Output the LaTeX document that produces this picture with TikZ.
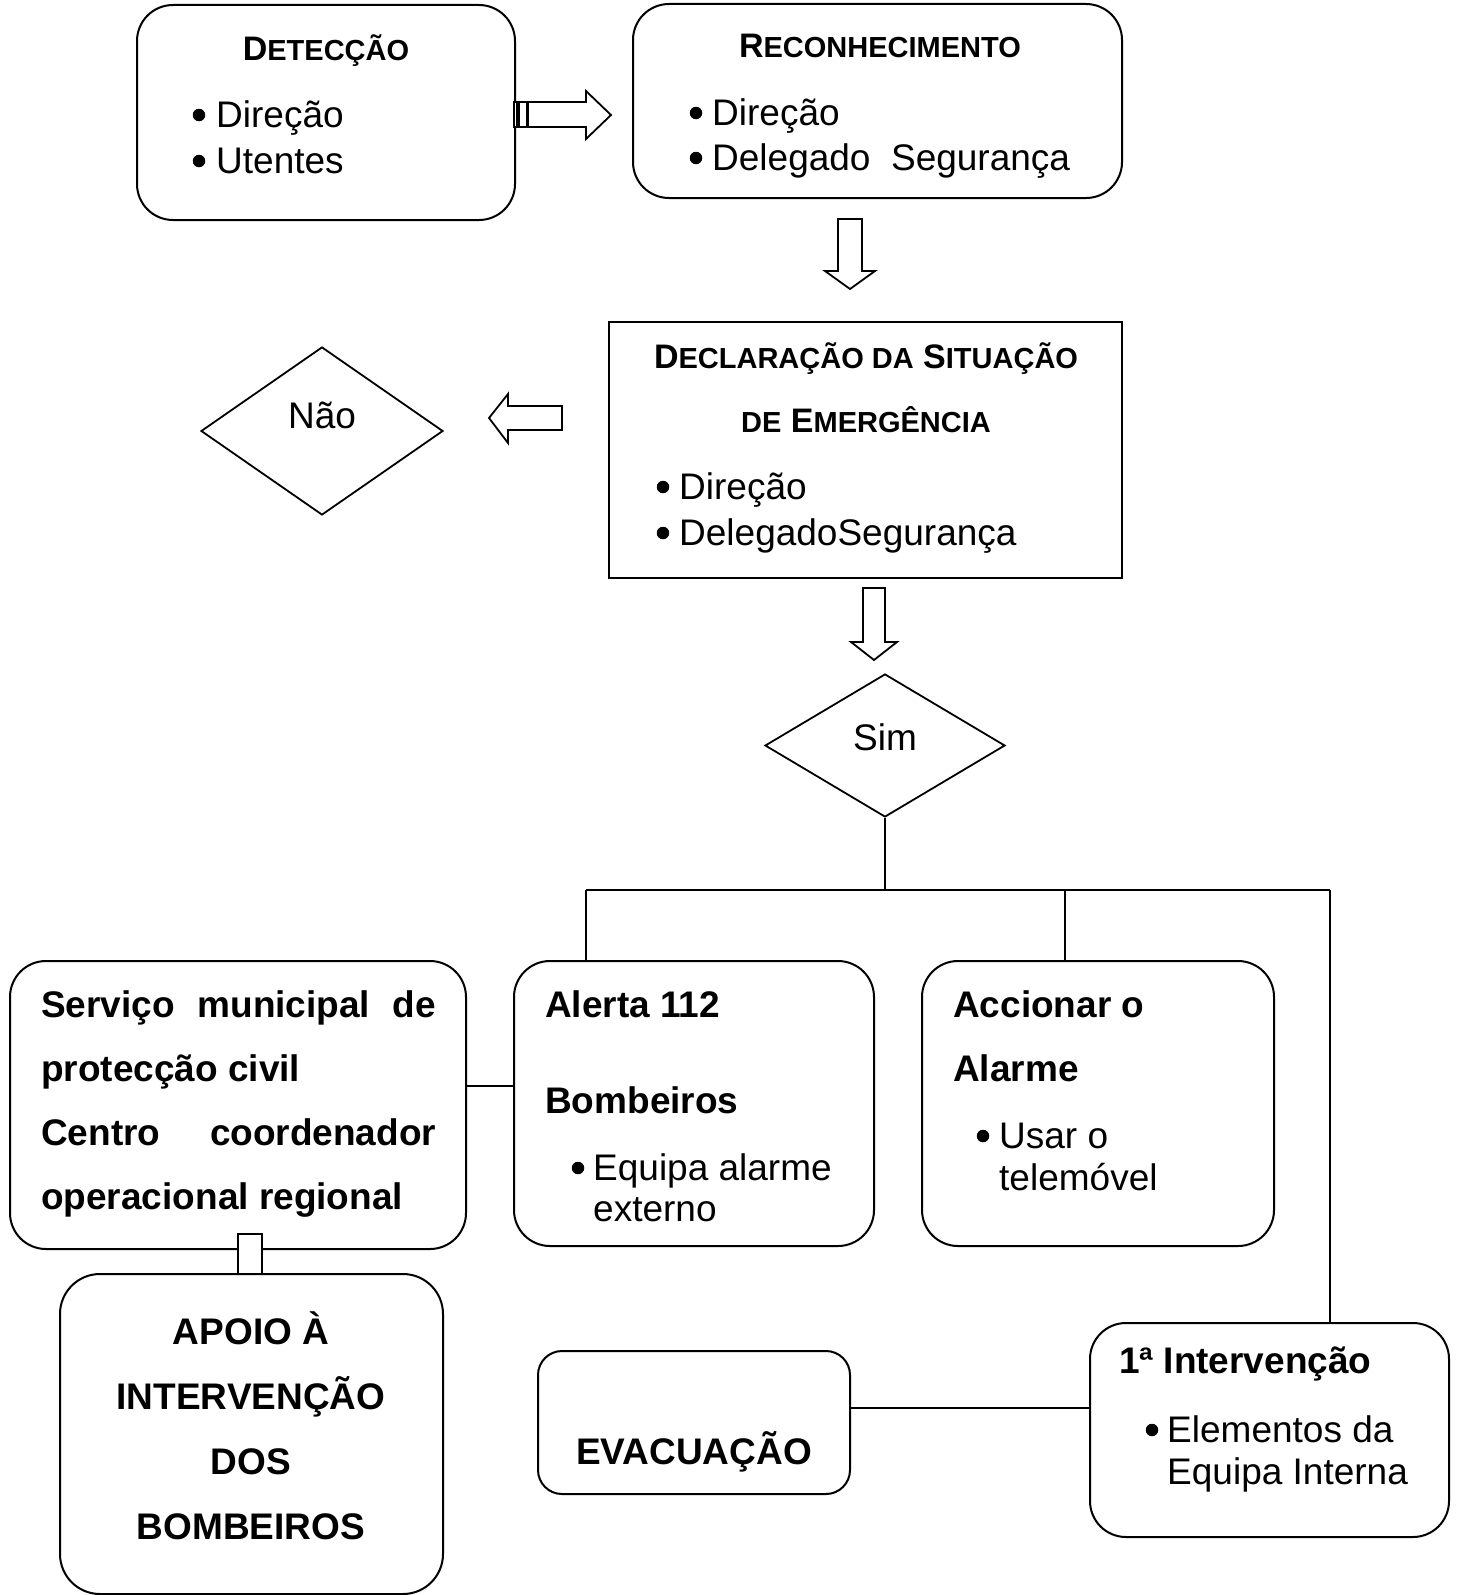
\documentclass[tikz,border=0pt]{standalone}
\usepackage{fontspec}
\setmainfont{Liberation Sans}
\usetikzlibrary{shapes.geometric}
\newcommand{\mysc}[1]{{\fontsize{29}{30}\selectfont #1}}
\tikzset{
  rbox/.style={draw, line width=2pt, rounded corners=36pt, inner sep=0pt},
  sbox/.style={draw, line width=2pt, inner sep=0pt},
  dia/.style={draw, diamond, line width=1.8pt, inner sep=0pt},
  conn/.style={line width=2pt},
  blk/.style={draw, line width=1.8pt, fill=white, line join=miter},
  txt/.style={inner sep=0pt, anchor=base west, font=\fontsize{37}{42}\selectfont},
  btxt/.style={inner sep=0pt, anchor=base west, font=\fontsize{37}{42}\selectfont\bfseries},
  ctxt/.style={inner sep=0pt, anchor=base, font=\fontsize{37}{42}\selectfont},
  cbtxt/.style={inner sep=0pt, anchor=base, font=\fontsize{37}{42}\selectfont\bfseries},
  ttl/.style={inner sep=0pt, anchor=base, font=\fontsize{34}{40}\selectfont\bfseries},
  bul/.style={circle, fill=black, inner sep=0pt, minimum size=12.5pt, yshift=12pt},
}
\begin{document}
\begin{tikzpicture}[x=1pt, y=-1pt]
\useasboundingbox (0,0) rectangle (1456,1595);

% boxes
\node[rbox, minimum width=378pt, minimum height=215pt] (det) at (326,112.5) {};
\node[rbox, minimum width=489pt, minimum height=194pt] (rec) at (877.5,101) {};
\node[sbox, minimum width=513pt, minimum height=256pt] (decl) at (865.5,450) {};
\node[dia, minimum width=242pt, minimum height=168pt] (nao) at (322,431) {};
\node[dia, minimum width=240pt, minimum height=143pt] (sim) at (885,745.5) {};
\node[rbox, minimum width=456pt, minimum height=288pt] (svc) at (238,1105) {};
\node[rbox, minimum width=360pt, minimum height=285pt] (alerta) at (694,1103.5) {};
\node[rbox, minimum width=352pt, minimum height=285pt] (acc) at (1098,1103.5) {};
\node[sbox, fill=white, minimum width=24pt, minimum height=40pt] (link) at (250,1254) {};
\node[rbox, rounded corners=40pt, minimum width=383pt, minimum height=320pt] (apoio) at (251.5,1434) {};
\node[rbox, rounded corners=24pt, minimum width=312pt, minimum height=143pt] (evac) at (694,1422.5) {};
\node[rbox, minimum width=359pt, minimum height=214pt] (inter) at (1269.5,1430) {};

% block arrows
\draw[blk] (514,102) rectangle (517,127);
\draw[blk] (519,102) rectangle (527,127);
\draw[blk] (528,102) -- (586,102) -- (586,91) -- (611,115) -- (586,139) -- (586,127) -- (528,127) -- cycle;
\draw[blk] (838,219) -- (862,219) -- (862,271) -- (875,271) -- (850,289) -- (825,271) -- (838,271) -- cycle;
\draw[blk] (562,406) -- (508,406) -- (508,394) -- (489,418) -- (508,443) -- (508,430) -- (562,430) -- cycle;
\draw[blk] (863,588) -- (885,588) -- (885,642) -- (897,642) -- (874,660) -- (851,642) -- (863,642) -- cycle;

% connectors
\coordinate (j) at (885,890);
\coordinate (hl) at (586,890);
\coordinate (hm) at (1065,890);
\coordinate (hr) at (1330,890);
\coordinate (c1) at (0,1086);
\coordinate (c2) at (0,1408);
\draw[conn] (sim.south) -- (j);
\draw[conn] (hl) -- (hr);
\draw[conn] (hl) -- (hl |- alerta.north);
\draw[conn] (hm) -- (hm |- acc.north);
\draw[conn] (hr) -- (hr |- inter.north);
\draw[conn] (svc.east |- c1) -- (alerta.west |- c1);
\draw[conn] (evac.east |- c2) -- (inter.west |- c2);

% texts: Deteccao
\node[ttl] (detT) at (326,60) {D\mysc{ETECÇÃO}};
\node[bul] (detB1) at (199,127) {};
\node[txt] (detL1) at (216,127) {Direção};
\node[bul] (detB2) at (199,173) {};
\node[txt] (detL2) at (216,173) {Utentes};

% Reconhecimento
\node[ttl] (recT) at (880,58) {R\mysc{ECONHECIMENTO}};
\node[bul] (recB1) at (696,125) {};
\node[txt] (recL1) at (712,125) {Direção};
\node[bul] (recB2) at (696,170) {};
\node[txt] (recL2) at (712,170) {Delegado\ \ Segurança};

% Declaracao
\node[ttl] (declT1) at (866,368) {D\mysc{ECLARAÇÃO DA} S\mysc{ITUAÇÃO}};
\node[ttl] (declT2) at (866,432) {\mysc{DE} E\mysc{MERGÊNCIA}};
\node[bul] (declB1) at (663,499) {};
\node[txt] (declL1) at (679,499) {Direção};
\node[bul] (declB2) at (663,545) {};
\node[txt] (declL2) at (679,545) {DelegadoSegurança};

% diamonds text
\node[ctxt] (naoT) at (322,428) {Não};
\node[ctxt] (simT) at (885,750) {Sim};

% Servico
\node[btxt] (svc1) at (41,1017) {\makebox[395pt][l]{Serviço\hfill municipal\hfill de}};
\node[btxt] (svc2) at (41,1081) {protecção civil};
\node[btxt] (svc3) at (41,1145) {\makebox[395pt][l]{Centro\hfill coordenador}};
\node[btxt] (svc4) at (41,1209) {operacional regional};

% Alerta
\node[btxt] (al1) at (545,1017) {Alerta 112};
\node[btxt] (al2) at (545,1113) {Bombeiros};
\node[bul] (alB) at (578,1180) {};
\node[txt] (al3) at (593,1180) {Equipa alarme};
\node[txt] (al4) at (593,1221) {externo};

% Accionar
\node[btxt] (ac1) at (953,1017) {Accionar o};
\node[btxt] (ac2) at (953,1081) {Alarme};
\node[bul] (acB) at (983,1148) {};
\node[txt] (ac3) at (999,1148) {Usar o};
\node[txt] (ac4) at (999,1190) {telemóvel};

% Apoio
\node[cbtxt] (ap1) at (251,1344) {APOIO À};
\node[cbtxt] (ap2) at (251,1409) {INTERVENÇÃO};
\node[cbtxt] (ap3) at (251,1474) {DOS};
\node[cbtxt] (ap4) at (251,1539) {BOMBEIROS};

% Evacuacao
\node[cbtxt] (evT) at (694,1464) {EVACUAÇÃO};

% 1a Intervencao
\node[btxt] (in1) at (1119,1373) {1ª Intervenção};
\node[bul] (inB) at (1152,1442) {};
\node[txt] (in2) at (1167,1442) {Elementos da};
\node[txt] (in3) at (1167,1484) {Equipa Interna};
\end{tikzpicture}
\end{document}
